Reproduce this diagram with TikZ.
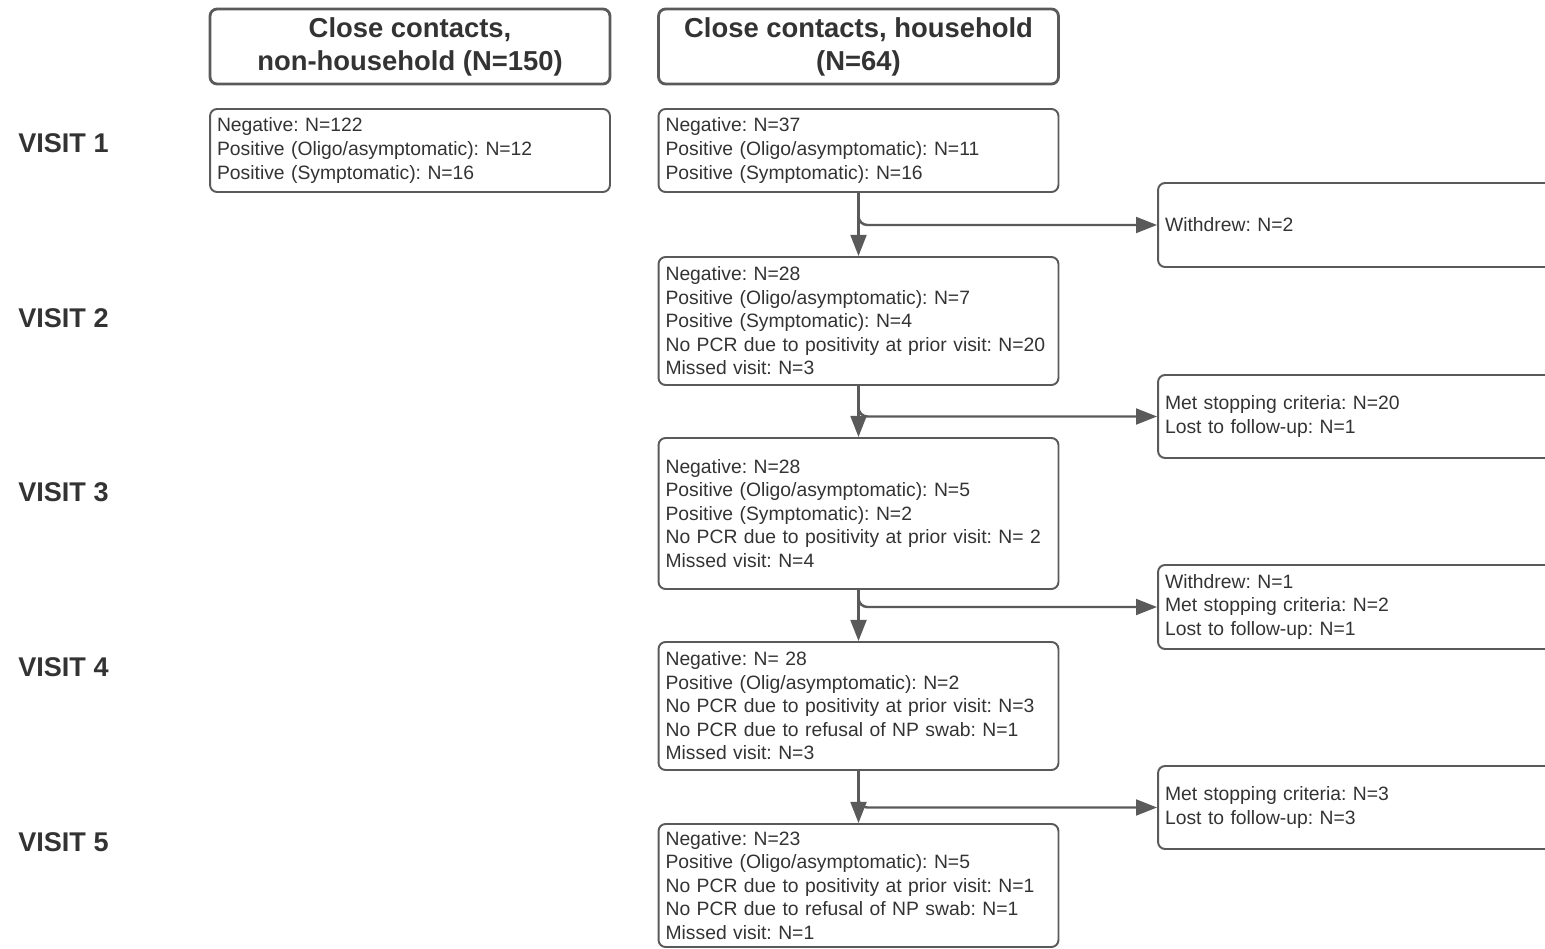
\documentclass[tikz,border=0pt]{standalone}
\usepackage{fontspec}
\setmainfont{Liberation Sans}
\usepackage{xcolor}
\usetikzlibrary{arrows.meta,positioning}
\definecolor{linegray}{HTML}{5A5A5A}
\definecolor{textgray}{HTML}{333333}
\frenchspacing

\tikzset{
  headbox/.style={draw=linegray, line width=1.6pt, rounded corners=4pt, minimum width=8cm,
    minimum height=1.5cm, align=center, text=textgray, font=\fontsize{15.6}{18.8}\selectfont\bfseries},
  countbox/.style={draw=linegray, line width=1.1pt, rounded corners=4pt, text width=7.72cm,
    inner xsep=0.14cm, align=left, text=textgray, font=\fontsize{11}{13.4}\selectfont},
  exitbox/.style={countbox, text width=8.56cm},
  visit/.style={anchor=west, inner sep=0pt, text=textgray, font=\fontsize{15.4}{18}\selectfont\bfseries},
  arr/.style={draw=linegray, line width=1.4pt, -{Triangle[length=12pt,width=9pt]}},
}

\begin{document}
\begin{tikzpicture}[x=0.02cm, y=-0.02cm]
    \useasboundingbox (0,0) rectangle (1545,949);
    \clip (0,0) rectangle (1545,949);

    % column headers
    \node[headbox] (nh) at (410,46.5) {Close contacts,\\non-household (N=150)};
    \node[headbox] (hh) at (858.5,46.5) {Close contacts, household\\(N=64)};

    % visit labels
    \node[visit] (v1) at (18,143) {VISIT 1};
    \node[visit] (v2) at (18,318) {VISIT 2};
    \node[visit] (v3) at (18,492) {VISIT 3};
    \node[visit] (v4) at (18,667) {VISIT 4};
    \node[visit] (v5) at (18,842) {VISIT 5};

    % non-household
    \node[countbox, minimum height=1.66cm] (nhv1) at (410,150.5) {Negative: N=122\\
      Positive (Oligo/asymptomatic): N=12\\Positive (Symptomatic): N=16};

    % household
    \node[countbox, minimum height=1.66cm] (hhv1) at (858.5,150.5) {Negative: N=37\\
      Positive (Oligo/asymptomatic): N=11\\Positive (Symptomatic): N=16};
    \node[countbox, minimum height=2.56cm] (hhv2) at (858.5,321) {Negative: N=28\\
      Positive (Oligo/asymptomatic): N=7\\Positive (Symptomatic): N=4\\
      No PCR due to positivity at prior visit: N=20\\Missed visit: N=3};
    \node[countbox, minimum height=3.02cm] (hhv3) at (858.5,513.5) {Negative: N=28\\
      Positive (Oligo/asymptomatic): N=5\\Positive (Symptomatic): N=2\\
      No PCR due to positivity at prior visit: N= 2\\Missed visit: N=4};
    \node[countbox, minimum height=2.56cm] (hhv4) at (858.5,706) {Negative: N= 28\\
      Positive (Olig/asymptomatic): N=2\\No PCR due to positivity at prior visit: N=3\\
      No PCR due to refusal of NP swab: N=1\\Missed visit: N=3};
    \node[countbox, minimum height=2.46cm] (hhv5) at (858.5,885.5) {Negative: N=23\\
      Positive (Oligo/asymptomatic): N=5\\No PCR due to positivity at prior visit: N=1\\
      No PCR due to refusal of NP swab: N=1\\Missed visit: N=1};

    % drop-outs between visits
    \node[exitbox, minimum height=1.68cm] (out1) at (1379,225) {Withdrew: N=2};
    \node[exitbox, minimum height=1.66cm] (out2) at (1379,416.5) {Met stopping criteria: N=20\\
      Lost to follow-up: N=1};
    \node[exitbox, minimum height=1.68cm] (out3) at (1379,607) {Withdrew: N=1\\
      Met stopping criteria: N=2\\Lost to follow-up: N=1};
    \node[exitbox, minimum height=1.66cm] (out4) at (1379,807.5) {Met stopping criteria: N=3\\
      Lost to follow-up: N=3};

    \foreach \a/\b/\o in {hhv1/hhv2/out1, hhv2/hhv3/out2, hhv3/hhv4/out3, hhv4/hhv5/out4} {
        \draw[arr] (\a.south) -- (\b.north);
        \draw[arr, rounded corners=5pt] (\a.south) |- (\o.west);
    }

\end{tikzpicture}
\end{document}
